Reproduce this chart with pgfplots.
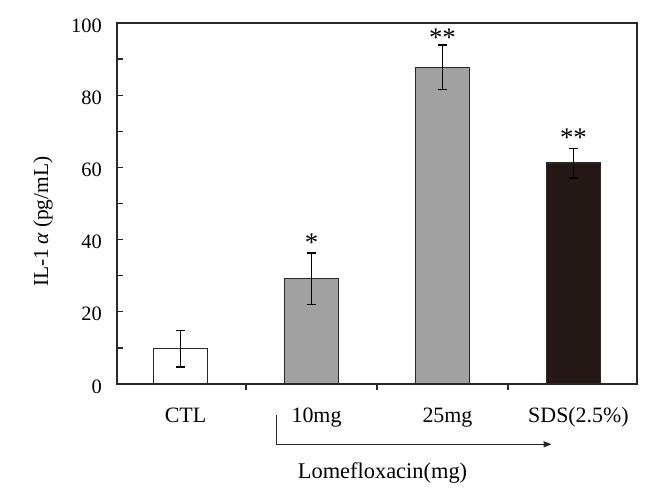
\documentclass[border=0pt]{standalone}
\usepackage{fontspec}
\setmainfont{Liberation Serif}
\usepackage{pgfplots}
\pgfplotsset{compat=1.18}
\usetikzlibrary{arrows.meta}
\definecolor{bargray}{RGB}{160,161,160}
\definecolor{bardark}{RGB}{35,24,21}
\definecolor{edge}{RGB}{40,40,40}
\pgfplotsset{
  myerr/.style={error bars/.cd, y dir=both, y explicit,
    error bar style={line width=1.3bp, black},
    error mark options={rotate=90, mark size=4.7bp, line width=1.3bp, black}},
}
\begin{document}
\begin{tikzpicture}
\path[use as bounding box] (-117bp,-118bp) rectangle (553bp,384bp);
\begin{axis}[
  at={(0,0)}, anchor=south west,
  scale only axis, width=520bp, height=361bp,
  xmin=-0.485, xmax=3.485, ymin=0, ymax=100,
  axis line style={line width=1.5bp, color=edge},
  xtick={0.5,1.5,2.5}, xticklabels={},
  extra x ticks={0,1,2,3},
  extra x tick labels={CTL,10mg,25mg,SDS(2.5\%)},
  extra x tick style={major tick length=0pt},
  xticklabel style={anchor=base, inner sep=0pt, yshift=-38.7bp, xshift=5bp, font=\fontsize{22}{26}\selectfont},
  ytick={0,20,...,100}, minor y tick num=1,
  tick align=inside, xtick pos=bottom, ytick pos=left,
  major tick length=6bp, minor tick length=6bp,
  tick style={line width=1.2bp, color=edge},
  yticklabel style={font=\fontsize{20.5}{24}\selectfont, inner sep=0pt, xshift=-15bp, yshift=-2.5bp},
  /pgf/number format/assume math mode=true,
  ylabel={IL-1\,\textit{α} (pg/mL)},
  ylabel style={at={(axis description cs:-0.1423,0.45)}, anchor=center, font=\fontsize{21.5}{25}\selectfont},
  xlabel={Lomefloxacin(mg)},
  xlabel style={at={(axis description cs:0.5106,-0.2604)}, anchor=base, inner sep=0pt, font=\fontsize{22.5}{26}\selectfont},
  clip=false,
  ybar, bar width=0.412, bar shift=0pt,
]
\addplot[fill=white, draw=edge, line width=1.5bp, myerr] coordinates {(0,9.8) +- (0,5.1)};
\addplot[fill=bargray, draw=edge, line width=1.5bp, myerr] coordinates {(1,29.2) +- (0,7.1)};
\addplot[fill=bargray, draw=edge, line width=1.5bp, myerr] coordinates {(2,87.7) +- (0,6.2)};
\addplot[fill=bardark, draw=edge, line width=1.5bp, myerr] coordinates {(3,61.2) +- (0,4.1)};
\node[font=\fontsize{27}{30}\selectfont, anchor=base, inner sep=0pt] at (axis cs:1,36.7) {*};
\node[font=\fontsize{27}{30}\selectfont, anchor=base, inner sep=0pt] at (axis cs:2,93.4) {**};
\node[font=\fontsize{27}{30}\selectfont, anchor=base, inner sep=0pt] at (axis cs:3,65.9) {**};
\draw[line width=1.3bp, edge, -{Triangle[length=8bp,width=6bp]}] (axis cs:0.734,-8.6) -- (axis cs:0.734,-16.7) -- (axis cs:2.833,-16.7);
\end{axis}
\end{tikzpicture}
\end{document}
